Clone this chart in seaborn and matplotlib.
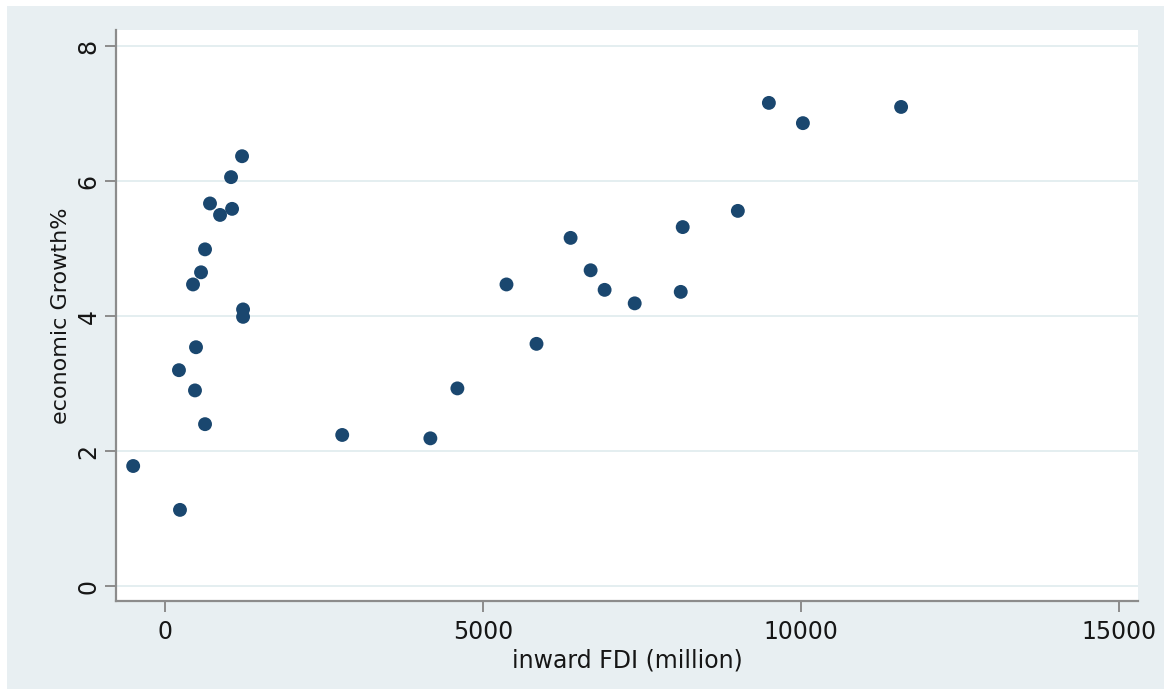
import matplotlib
matplotlib.use("Agg")
import matplotlib.pyplot as plt
from matplotlib.patches import Rectangle
import seaborn as sns
import pandas as pd

# inward FDI (million) and economic growth (%)
fdi = [-500, 236, 220, 472, 488, 630, 441, 567, 630, 708, 866, 1055, 1039,
       1212, 1228, 1228, 2787, 4173, 4598, 5370, 5842, 6378, 6693, 6913,
       7386, 8110, 8141, 9008, 9496, 10031, 11575]
growth = [1.78, 1.13, 3.20, 2.90, 3.54, 2.40, 4.47, 4.65, 4.99, 5.67, 5.50,
          5.59, 6.06, 6.37, 4.10, 3.99, 2.24, 2.19, 2.93, 4.47, 3.59, 5.16,
          4.68, 4.39, 4.19, 4.36, 5.32, 5.56, 7.16, 6.86, 7.10]

x_ticks = [0, 5000, 10000, 15000]
y_ticks = [0, 2, 4, 6, 8]

df = pd.DataFrame({"inward FDI (million)": fdi, "economic Growth%": growth})

sns.set_theme(style="white")
plt.rcParams["font.family"] = ["DejaVu Sans"]

bg = "#E8EFF2"
axis_col = "#8C8C8C"
text_col = "#161616"

fig = plt.figure(figsize=(11.64, 6.89), dpi=100)
fig.patch.set_facecolor("white")
fig.patches.append(Rectangle((7 / 1164, 0), 1, 1 - 6 / 689,
                             transform=fig.transFigure, facecolor=bg,
                             edgecolor="none", zorder=-10))

ax = fig.add_axes([116 / 1164, 1 - 601 / 689, (1138 - 116) / 1164, (601 - 30) / 689])
ax.set_facecolor("white")

for yv in y_ticks:
    ax.axhline(yv, color="#E2EDEF", lw=1.3, zorder=0)

sns.scatterplot(data=df, x="inward FDI (million)", y="economic Growth%",
                ax=ax, color="#1A476F", s=100, edgecolor="none", zorder=3)

ax.set_xlim(-770, 15300)
ax.set_ylim(-0.22, 8.24)
ax.set_xticks(x_ticks)
ax.set_yticks(y_ticks)
ax.set_xticklabels([str(v) for v in x_ticks], fontsize=17, color=text_col)
ax.set_yticklabels([str(v) for v in y_ticks], fontsize=17, color=text_col,
                   rotation=90, va="center")

for side in ("top", "right"):
    ax.spines[side].set_visible(False)
for side in ("left", "bottom"):
    ax.spines[side].set_color(axis_col)
    ax.spines[side].set_linewidth(1.6)

ax.tick_params(axis="both", which="major", direction="out", length=8,
               width=1.4, color=axis_col, left=True, bottom=True)
ax.tick_params(axis="x", pad=6)
ax.tick_params(axis="y", pad=3)

ax.set_xlabel("inward FDI (million)", fontsize=17, color=text_col, labelpad=3)
ax.set_ylabel("economic Growth%", fontsize=16, color=text_col, labelpad=4)

fig.savefig("out.png", dpi=100, facecolor=fig.get_facecolor())
